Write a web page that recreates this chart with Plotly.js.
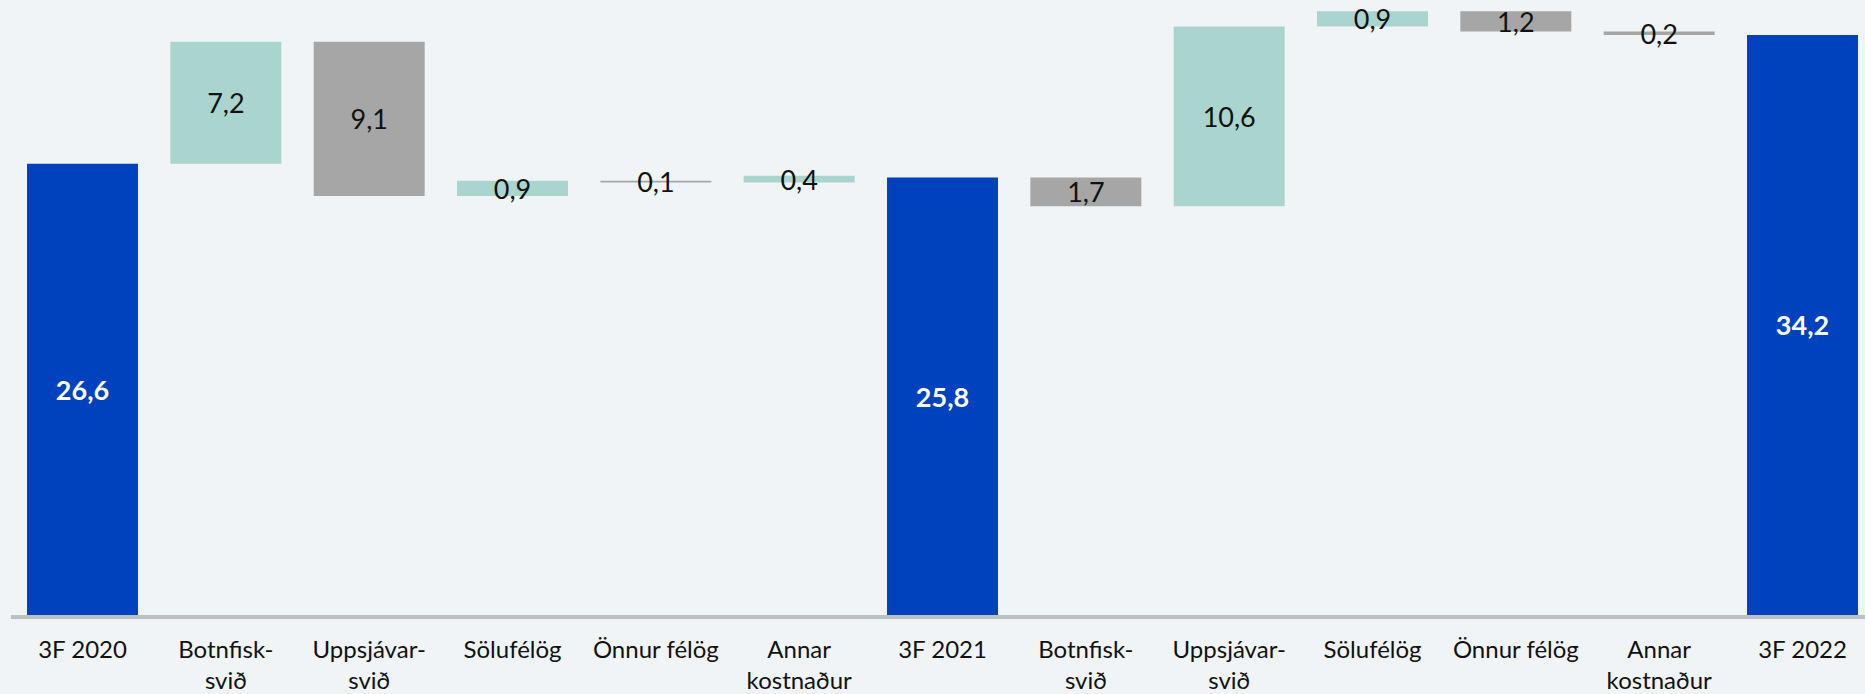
<!DOCTYPE html>
<html>
<head>
<meta charset="utf-8">
<script src="https://cdn.plot.ly/plotly-3.0.1.min.js"></script>
<style>
  html, body { margin: 0; padding: 0; background: #f0f4f7; }
  #chart { width: 1865px; height: 694px; }
</style>
</head>
<body>
<div id="chart"></div>
<script>
// ---- data ----
const categories = ['3F 2020', 'Botnfisk-<br>svið', 'Uppsjávar-<br>svið', 'Sölufélög', 'Önnur félög', 'Annar<br>kostnaður',
                    '3F 2021', 'Botnfisk-<br>svið', 'Uppsjávar-<br>svið', 'Sölufélög', 'Önnur félög', 'Annar<br>kostnaður', '3F 2022'];
const measures = ['absolute', 'relative', 'relative', 'relative', 'relative', 'relative',
                  'absolute', 'relative', 'relative', 'relative', 'relative', 'relative', 'absolute'];
const values = [26.6, 7.2, -9.1, 0.9, -0.1, 0.4, 25.8, -1.7, 10.6, 0.9, -1.2, -0.2, 34.2];

// ---- labels built from values ----
const fmt = v => Math.abs(v).toFixed(1).replace('.', ',');
const labels = values.map((v, i) => measures[i] === 'absolute' ? '<b>' + fmt(v) + '</b>' : fmt(v));
const labelColors = measures.map(m => m === 'absolute' ? '#ffffff' : '#111111');
const positions = categories.map((c, i) => i);

const trace = {
  type: 'waterfall',
  x: positions,
  measure: measures,
  y: values,
  text: labels,
  textposition: 'inside',
  insidetextanchor: 'middle',
  constraintext: 'none',
  textangle: 0,
  textfont: { family: 'Lato, sans-serif', size: 27, color: labelColors },
  increasing: { marker: { color: '#aad5cf', line: { width: 0 } } },
  decreasing: { marker: { color: '#a6a6a6', line: { width: 0 } } },
  totals: { marker: { color: '#0041bd', line: { width: 0 } } },
  connector: { visible: false },
  hoverinfo: 'skip'
};

const layout = {
  width: 1865,
  height: 694,
  paper_bgcolor: '#f0f4f7',
  plot_bgcolor: '#f0f4f7',
  margin: { l: 11, r: 0, t: 0, b: 79 },
  showlegend: false,
  waterfallgap: 0.2256,
  xaxis: {
    range: [-0.499, 12.436],
    tickmode: 'array',
    tickvals: positions,
    ticktext: categories,
    showgrid: false,
    zeroline: false,
    showline: true,
    linecolor: '#b9c1c1',
    linewidth: 4,
    ticks: '',
    ticklabelstandoff: 10,
    tickfont: { family: 'Lato, sans-serif', size: 24, color: '#111111' },
    fixedrange: true
  },
  yaxis: {
    range: [0, 36.26],
    visible: false,
    showgrid: false,
    zeroline: false,
    fixedrange: true
  }
};

Plotly.newPlot('chart', [trace], layout, { displayModeBar: false, staticPlot: true });
</script>
</body>
</html>
